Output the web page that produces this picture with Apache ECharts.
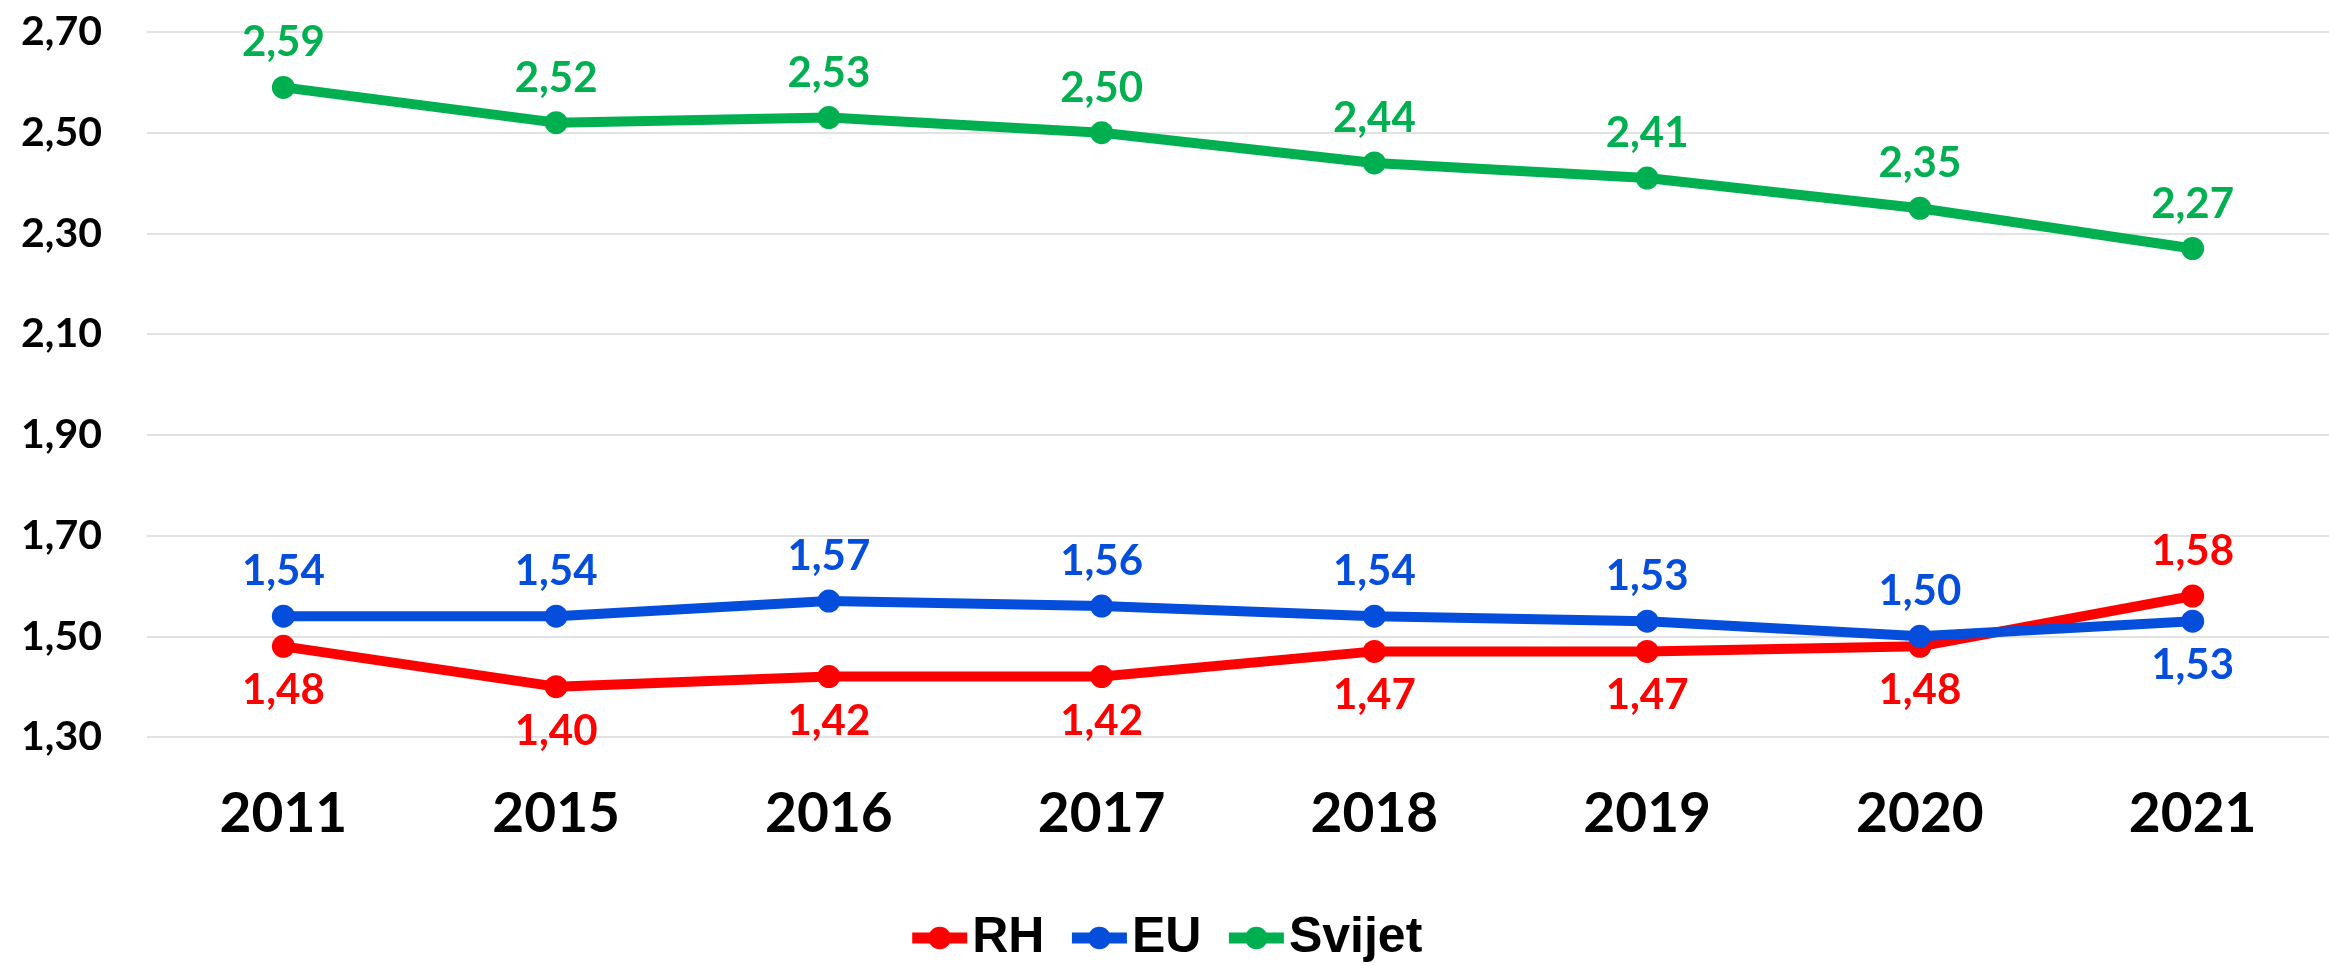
<!DOCTYPE html>
<html>
<head>
<meta charset="utf-8">
<script src="https://cdn.jsdelivr.net/npm/echarts@6/dist/echarts.min.js"></script>
<style>
  html, body { margin: 0; padding: 0; background: #fff; }
  #chart { width: 2329px; height: 966px; }
</style>
</head>
<body>
<div id="chart"></div>
<script>
  // godine
  const years = ['2011', '2015', '2016', '2017', '2018', '2019', '2020', '2021'];
  // stope po seriji
  const rh = [1.48, 1.40, 1.42, 1.42, 1.47, 1.47, 1.48, 1.58];
  const eu = [1.54, 1.54, 1.57, 1.56, 1.54, 1.53, 1.50, 1.53];
  const svijet = [2.59, 2.52, 2.53, 2.50, 2.44, 2.41, 2.35, 2.27];
  const yMin = 1.3, yMax = 2.7, yStep = 0.2;

  const fmt = v => v.toFixed(2).replace('.', ',');
  const numFont = 'Lato, "Open Sans", sans-serif';

  // zadnja točka RH iznad, EU ispod
  function points(values, lastPos) {
    return values.map((v, i) => {
      if (i === values.length - 1 && lastPos) {
        return { value: v, label: { position: lastPos } };
      }
      return v;
    });
  }

  function line(name, color, values, pos, lastPos) {
    return {
      name: name,
      type: 'line',
      data: points(values, lastPos),
      symbol: 'circle',
      symbolSize: 23,
      lineStyle: { width: 10, color: color },
      itemStyle: { color: color },
      label: {
        show: true,
        position: pos,
        distance: 12,
        color: color,
        fontFamily: numFont,
        fontWeight: 'bold',
        fontSize: 42,
        formatter: p => fmt(p.value)
      },
      emphasis: { disabled: true },
      animation: false
    };
  }

  const chart = echarts.init(document.getElementById('chart'));
  chart.setOption({
    backgroundColor: '#fff',
    grid: { left: 147, top: 32, width: 2189, height: 705 },
    xAxis: {
      type: 'category',
      data: years,
      boundaryGap: true,
      axisLine: { show: false },
      axisTick: { show: false },
      axisLabel: {
        margin: 50,
        color: '#000',
        fontFamily: numFont,
        fontWeight: 'bold',
        fontSize: 55
      }
    },
    yAxis: {
      type: 'value',
      min: yMin,
      max: yMax,
      interval: yStep,
      axisLine: { show: false },
      axisTick: { show: false },
      splitLine: { lineStyle: { color: '#D9D9D9', width: 1.5 } },
      axisLabel: {
        margin: 45,
        color: '#000',
        fontFamily: numFont,
        fontWeight: 'bold',
        fontSize: 41,
        formatter: v => fmt(v)
      }
    },
    legend: {
      top: 908,
      left: 'center',
      itemWidth: 55,
      itemHeight: 28,
      itemGap: 22,
      lineStyle: { width: 11 },
      textStyle: {
        color: '#000',
        fontFamily: '"Liberation Sans", Arial, sans-serif',
        fontWeight: 'bold',
        fontSize: 50
      },
      data: ['RH', 'EU', 'Svijet']
    },
    series: [
      line('RH', '#FF0000', rh, 'bottom', 'top'),
      line('EU', '#054EDC', eu, 'top', 'bottom'),
      line('Svijet', '#00B050', svijet, 'top')
    ]
  });
</script>
</body>
</html>
